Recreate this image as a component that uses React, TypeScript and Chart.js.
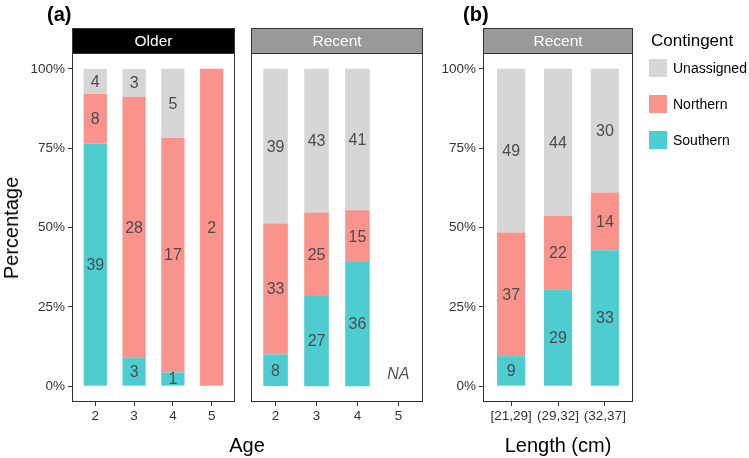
import React, { useEffect, useRef } from 'react';
import { Chart, registerables } from 'chart.js';

Chart.register(...registerables);

const FONT = '"Liberation Sans", Arial, Helvetica, sans-serif';

// ---- data (counts) ----
const ageCats = ['2', '3', '4', '5'];
const olderSouthern = [39, 3, 1, 0];
const olderNorthern = [8, 28, 17, 2];
const olderUnassigned = [4, 3, 5, 0];

const recentSouthern: (number | null)[] = [8, 27, 36, null];
const recentNorthern: (number | null)[] = [33, 25, 15, null];
const recentUnassigned: (number | null)[] = [39, 43, 41, null];

const lengthCats = ['[21,29]', '(29,32]', '(32,37]'];
const lengthSouthern = [9, 29, 33];
const lengthNorthern = [37, 22, 14];
const lengthUnassigned = [49, 44, 30];

const yTicks = [0, 25, 50, 75, 100];
const seriesNames = ['Southern', 'Northern', 'Unassigned'];
const legendOrder = ['Unassigned', 'Northern', 'Southern'];

const COLORS: Record<string, string> = {
  Southern: '#4ECDD1',
  Northern: '#F9938C',
  Unassigned: '#D6D6D6',
};

const W = 749;
const H = 458;
const XH = 30; // x-axis box height
const YW = 42; // y-axis box width
const STRIP_H = 25;

type Panel = {
  cats: string[];
  s: (number | null)[];
  n: (number | null)[];
  u: (number | null)[];
  strip: string;
  stripFill: string;
  left: number;
  right: number;
  top: number;
  bottom: number;
  yAxis: boolean;
};

const panels: Panel[] = [
  { cats: ageCats, s: olderSouthern, n: olderNorthern, u: olderUnassigned, strip: 'Older', stripFill: '#000000', left: 72, right: 235, top: 53, bottom: 402, yAxis: true },
  { cats: ageCats, s: recentSouthern, n: recentNorthern, u: recentUnassigned, strip: 'Recent', stripFill: '#999999', left: 251, right: 423, top: 53, bottom: 402, yAxis: false },
  { cats: lengthCats, s: lengthSouthern, n: lengthNorthern, u: lengthUnassigned, strip: 'Recent', stripFill: '#999999', left: 483, right: 633, top: 53, bottom: 402, yAxis: true },
];

const facetPlugin = {
  id: 'facet',
  afterDatasetsDraw(chart: any, _args: any, opts: any) {
    const { ctx, chartArea: a } = chart;
    ctx.save();
    // value labels
    ctx.font = `16px ${FONT}`;
    ctx.fillStyle = '#4D4D4D';
    ctx.textAlign = 'center';
    ctx.textBaseline = 'middle';
    chart.data.datasets.forEach((ds: any, i: number) => {
      const meta = chart.getDatasetMeta(i);
      meta.data.forEach((el: any, j: number) => {
        const raw = ds.data[j];
        if (!raw || !raw.count) return;
        const p = el.getProps(['x', 'y', 'base'], true);
        ctx.fillText(String(raw.count), p.x, (p.y + p.base) / 2 + 1);
      });
    });
    // NA labels
    const xs = chart.scales.x;
    const ys = chart.scales.y;
    (opts.naIdx || []).forEach((idx: number) => {
      ctx.font = `italic 16px ${FONT}`;
      ctx.fillStyle = '#555555';
      ctx.fillText('NA', xs.getPixelForValue(idx), ys.getPixelForValue(3.5));
    });
    // panel border
    ctx.strokeStyle = '#333333';
    ctx.lineWidth = 1;
    ctx.strokeRect(a.left + 0.5, a.top + 0.5, a.width - 1, a.height - 1);
    // strip
    ctx.fillStyle = opts.fill;
    ctx.fillRect(a.left, a.top - STRIP_H, a.width, STRIP_H);
    ctx.strokeRect(a.left + 0.5, a.top - STRIP_H + 0.5, a.width - 1, STRIP_H);
    ctx.fillStyle = '#FFFFFF';
    ctx.font = `15.5px ${FONT}`;
    ctx.fillText(opts.title, (a.left + a.right) / 2, a.top - STRIP_H / 2 + 1);
    ctx.restore();
  },
};

function makeConfig(p: Panel): any {
  const n = p.cats.length;
  const totals = p.cats.map((_, i) => (p.s[i] ?? 0) + (p.n[i] ?? 0) + (p.u[i] ?? 0));
  const naIdx = totals.map((t, i) => (t > 0 ? -1 : i)).filter((i) => i >= 0);
  const toPts = (arr: (number | null)[]) =>
    arr
      .map((v, i) => (totals[i] > 0 && v != null ? { x: i, y: (v / totals[i]) * 100, count: v } : null))
      .filter(Boolean);
  const series = [p.s, p.n, p.u];
  const tickFont = { size: 13.5, family: FONT };
  const grid = { drawOnChartArea: false, drawTicks: true, tickLength: 4, color: '#333333', lineWidth: 1, offset: false };
  return {
    type: 'bar',
    data: {
      datasets: seriesNames.map((name, k) => ({
        label: name,
        data: toPts(series[k]),
        backgroundColor: COLORS[name],
        borderWidth: 0,
        categoryPercentage: 1,
        barPercentage: 0.6,
      })),
    },
    options: {
      animation: false,
      responsive: false,
      devicePixelRatio: 1,
      layout: {
        padding: {
          left: p.yAxis ? p.left - YW : p.left,
          right: W - p.right,
          top: p.top,
          bottom: H - p.bottom - XH,
        },
      },
      plugins: {
        legend: { display: false },
        tooltip: { enabled: false },
        facet: { title: p.strip, fill: p.stripFill, naIdx },
      },
      scales: {
        x: {
          type: 'linear',
          stacked: true,
          offset: false,
          min: -0.6,
          max: n - 1 + 0.6,
          afterBuildTicks: (s: any) => {
            s.ticks = p.cats.map((_, i) => ({ value: i }));
          },
          afterFit: (s: any) => {
            s.height = XH;
          },
          ticks: {
            callback: (v: any) => p.cats[Math.round(v)] ?? '',
            font: tickFont,
            color: '#333333',
            padding: 2,
            maxRotation: 0,
            autoSkip: false,
          },
          grid,
          border: { display: false },
        },
        y: {
          type: 'linear',
          stacked: true,
          display: p.yAxis,
          offset: false,
          min: -5,
          max: 105,
          afterBuildTicks: (s: any) => {
            s.ticks = yTicks.map((v) => ({ value: v }));
          },
          afterFit: (s: any) => {
            s.width = p.yAxis ? YW : 0;
          },
          ticks: {
            callback: (v: any) => `${v}%`,
            font: tickFont,
            color: '#333333',
            padding: 3,
          },
          grid,
          border: { display: false },
        },
      },
    },
    plugins: [facetPlugin],
  };
}

function PanelChart({ panel }: { panel: Panel }) {
  const ref = useRef<HTMLCanvasElement | null>(null);
  useEffect(() => {
    if (!ref.current) return;
    const chart = new Chart(ref.current, makeConfig(panel));
    return () => chart.destroy();
  }, [panel]);
  return (
    <canvas
      ref={ref}
      width={W}
      height={H}
      style={{ position: 'absolute', left: 0, top: 0, width: W, height: H }}
    />
  );
}

const txt = (extra: React.CSSProperties): React.CSSProperties => ({
  position: 'absolute',
  fontFamily: FONT,
  lineHeight: 1,
  whiteSpace: 'nowrap',
  color: '#000',
  ...extra,
});

export default function App() {
  return (
    <div
      style={{
        position: 'fixed',
        left: 0,
        top: 0,
        width: W,
        height: H,
        background: '#FFFFFF',
        overflow: 'hidden',
      }}
    >
      {panels.map((p, i) => (
        <PanelChart key={i} panel={p} />
      ))}
      <div style={txt({ left: 47, top: 4, fontSize: 20, fontWeight: 'bold' })}>(a)</div>
      <div style={txt({ left: 463, top: 4, fontSize: 20, fontWeight: 'bold' })}>(b)</div>
      <div
        style={txt({
          left: 11,
          top: 228,
          fontSize: 20,
          transform: 'translate(-50%, -50%) rotate(-90deg)',
        })}
      >
        Percentage
      </div>
      <div style={txt({ left: 247, top: 445, fontSize: 20, transform: 'translate(-50%, -50%)' })}>Age</div>
      <div style={txt({ left: 558, top: 445, fontSize: 20, transform: 'translate(-50%, -50%)' })}>
        Length (cm)
      </div>
      <div style={txt({ left: 651, top: 40, fontSize: 17, transform: 'translateY(-50%)' })}>Contingent</div>
      {legendOrder.map((name, i) => (
        <React.Fragment key={name}>
          <div
            style={{
              position: 'absolute',
              left: 649,
              top: 59 + i * 36,
              width: 18,
              height: 18,
              background: COLORS[name],
            }}
          />
          <div style={txt({ left: 673, top: 68 + i * 36, fontSize: 14, transform: 'translateY(-50%)' })}>
            {name}
          </div>
        </React.Fragment>
      ))}
    </div>
  );
}
